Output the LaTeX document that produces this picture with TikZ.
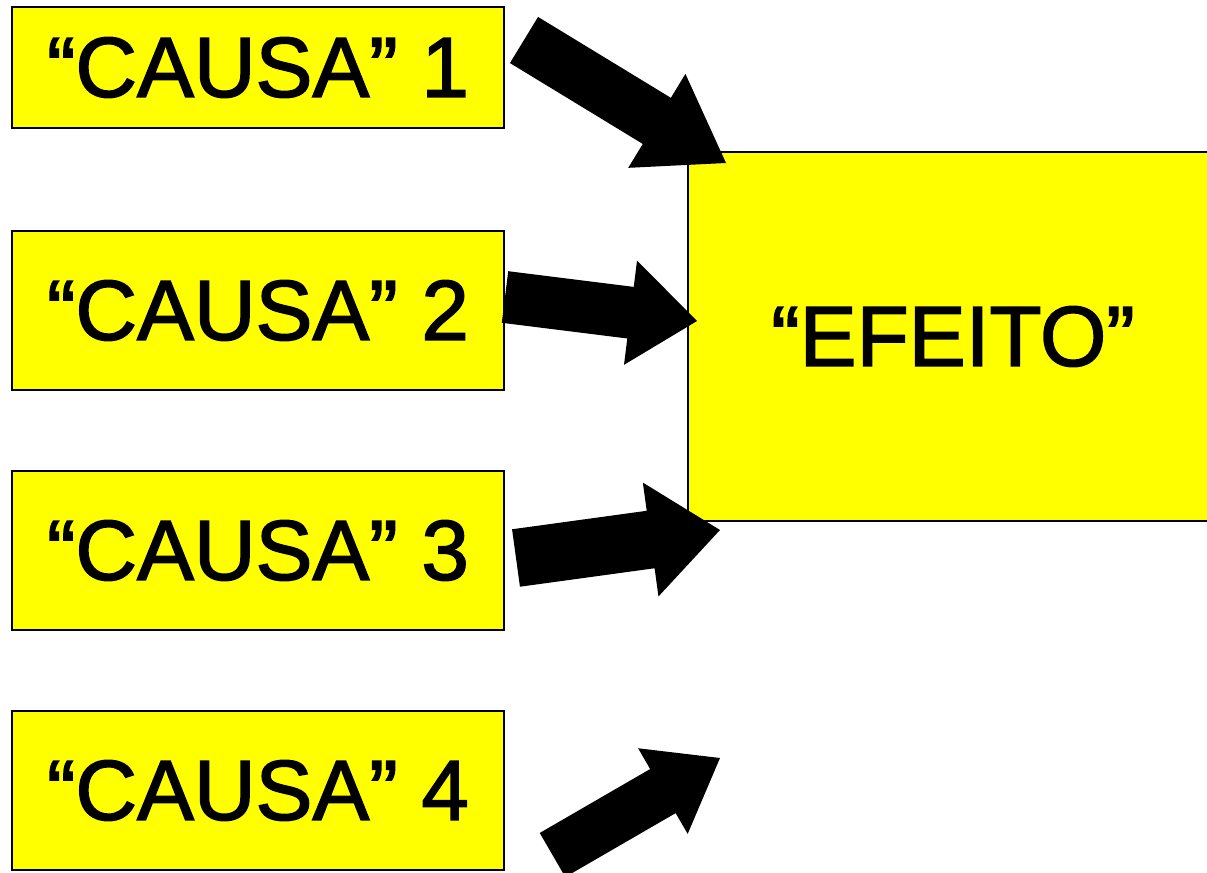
\documentclass[tikz,border=0pt]{standalone}
\usepackage{fontspec}
\setmainfont{Liberation Sans}
\newfontfamily\boxfont[FakeBold=1.8]{Liberation Sans}
\usetikzlibrary{calc}

\definecolor{boxyellow}{HTML}{FFFF00}

% Block arrow from tail centre #1 to tip #2:
% #3 half shaft width, #4 half head width, #5 head length
\newcommand{\blockarrow}[5]{%
  \coordinate (hb) at ($(#2)!#5!(#1)$);
  \fill[black]
    ($(#1)!#3!90:(#2)$) -- ($(hb)!#3!90:(#2)$) -- ($(hb)!#4!90:(#2)$) --
    (#2) --
    ($(hb)!#4!-90:(#2)$) -- ($(hb)!#3!-90:(#2)$) -- ($(#1)!#3!-90:(#2)$) -- cycle;
}

\tikzset{
  labelbox/.style={draw=black, line width=1.1pt, fill=boxyellow, inner sep=0pt,
    font=\boxfont\fontsize{64}{68}\selectfont, text=black},
  causebox/.style={labelbox, minimum width=369pt, minimum height=119.25pt},
}

\begin{document}
\begin{tikzpicture}[x=0.75pt, y=-0.75pt]
  \useasboundingbox (0,0) rectangle (1207,873);
  \clip (0,0) rectangle (1207,873);

  % causes
  \node[causebox, minimum height=90.75pt] (c1) at (258,67.5) {“CAUSA” 1\hspace{4pt}};
  \node[causebox] (c2) at (258,310.5) {“CAUSA” 2\hspace{4pt}};
  \node[causebox] (c3) at (258,550.5) {“CAUSA” 3\hspace{4pt}};
  \node[causebox] (c4) at (258,790.5) {“CAUSA” 4\hspace{4pt}};

  % effect
  \node[labelbox, line width=0.9pt, minimum width=397.5pt, minimum height=276.75pt]
    (ef) at (953,336.5) {“EFEITO”};

  % arrow ends
  \coordinate (a1s) at (524,40);    \coordinate (a1t) at (726,163);
  \coordinate (a2s) at (505,297);   \coordinate (a2t) at (697,321);
  \coordinate (a3s) at (516,558);   \coordinate (a3t) at (720,530);
  \coordinate (a4s) at (552.5,855); \coordinate (a4t) at (720,758);

  \blockarrow{a1s}{a1t}{20.25pt}{41.25pt}{60.75pt}
  \blockarrow{a2s}{a2t}{19.5pt}{39.4pt}{50.25pt}
  \blockarrow{a3s}{a3t}{21.75pt}{43.1pt}{52.5pt}
  \blockarrow{a4s}{a4t}{19.1pt}{37.1pt}{49.5pt}
\end{tikzpicture}
\end{document}
